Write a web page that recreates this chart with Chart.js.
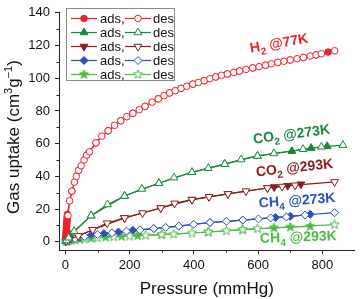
<!DOCTYPE html>
<html>
<head>
<meta charset="utf-8">
<script src="https://cdn.jsdelivr.net/npm/chart.js@4.4.0/dist/chart.umd.min.js"></script>
<style>
  html, body { margin: 0; padding: 0; background: #fff; }
</style>
</head>
<body>
<canvas id="chart" width="360" height="299"></canvas>
<script>
const FONT = '"Liberation Sans", Arial, Helvetica, sans-serif';

// --- data (pressure mmHg / uptake cm3 g-1) ---
const h2AdsP = [0.5, 0.9, 1.3, 1.7, 2.0, 2.4, 2.8, 3.1, 3.5, 3.9, 4.2, 4.6, 5.0, 5.4, 5.8, 6.2,
                20, 41, 66, 95, 133, 172, 210, 248, 289, 324, 360, 397, 432, 468, 504, 542, 583, 623, 661, 700, 741, 780, 818];
const h2AdsV = [0.8, 1.9, 2.9, 4.0, 5.0, 6.1, 7.1, 8.2, 9.3, 10.3, 11.3, 12.4, 13.5, 14.6, 15.7, 16.8,
                31, 43.7, 53, 60.5, 67.9, 74, 78.6, 82.8, 87.4, 91, 93.8, 96.4, 98.5, 100.8, 102.6, 104.4, 106.3, 108, 109.7, 111.2, 112.7, 114.3, 116];
const h2DesP = [8, 13, 20, 28, 34, 41, 49, 58, 66, 75, 95, 113, 133, 153, 172, 191, 210, 230, 248,
                270, 289, 307, 324, 342, 360, 378, 397, 414, 432, 450, 468, 486, 504, 524, 542, 562, 583, 603, 623,
                641, 661, 680, 700, 721, 741, 762, 780, 797, 838];
const h2DesV = [16, 25, 31, 36.5, 40, 43.7, 46.5, 50, 53, 55, 60.5, 64.6, 67.9, 71.2, 74, 76.5, 78.6, 80.8, 82.8,
                85.4, 87.4, 89.3, 91, 92.4, 93.8, 95.1, 96.4, 97.4, 98.5, 99.7, 100.8, 101.8, 102.6, 103.5, 104.4, 105.4, 106.3, 107.1, 108,
                108.8, 109.7, 110.4, 111.2, 111.9, 112.7, 113.6, 114.3, 115, 116.8];

const co2aAdsP = [1, 6, 16, 80, 184, 291, 394, 496, 598, 705, 765, 815];
const co2aAdsV = [0.3, 1.6, 4.2, 16, 28, 35.8, 42.5, 47.5, 52.5, 55.4, 57.3, 58.4];
const co2aDesP = [3, 10, 27, 80, 131, 184, 238, 291, 338, 394, 445, 496, 547, 598, 649, 740, 797, 864];
const co2aDesV = [0.8, 2.5, 6.5, 16, 22.8, 28, 32.3, 35.8, 39.2, 42.5, 45, 47.5, 50.3, 52.5, 54, 56.6, 58.1, 59.1];

const co2bAdsP = [1, 6, 22, 85, 184, 297, 394, 506, 629, 650, 692, 733];
const co2bAdsV = [0.2, 0.8, 2.2, 7.4, 14.6, 20.7, 25.8, 29.3, 32.9, 33.5, 34.3, 35.2];
const co2bDesP = [3, 12, 40, 85, 130, 184, 240, 297, 340, 394, 447, 506, 562, 629, 675, 715, 838];
const co2bDesV = [0.5, 1.5, 3.6, 7.4, 11.4, 14.6, 17.6, 20.7, 23.5, 25.8, 27.5, 29.3, 31, 32.9, 33.8, 34.6, 36.6];

const ch4aAdsP = [5, 20, 45, 80, 120, 165, 210, 275, 353, 450, 552, 654, 700, 762];
const ch4aAdsV = [0.5, 1.5, 2.7, 4, 5, 6, 7, 8.1, 9.6, 11.8, 13.3, 14.9, 15.6, 16.8];
const ch4aDesP = [2, 10, 30, 60, 100, 145, 190, 232, 275, 312, 353, 399, 450, 501, 552, 601, 639, 688, 746, 838];
const ch4aDesV = [0.3, 0.8, 2, 3.2, 4.5, 5.5, 6.5, 7.3, 8.1, 8.8, 9.6, 10.7, 11.8, 12.5, 13.3, 14, 14.6, 15.2, 16.4, 17.8];

const ch4bAdsP = [5, 20, 45, 80, 125, 175, 225, 300, 445, 552, 649, 700, 762];
const ch4bAdsV = [0.4, 1, 1.6, 2.2, 2.8, 3.3, 3.8, 4.4, 6, 7.4, 8.5, 9, 9.5];
const ch4bDesP = [2, 10, 30, 60, 100, 150, 200, 250, 300, 337, 394, 445, 501, 552, 598, 838];
const ch4bDesV = [0.2, 0.6, 1.2, 1.8, 2.4, 3.0, 3.5, 4.0, 4.4, 4.7, 5.4, 6.0, 6.7, 7.4, 8.0, 10.5];

const xTicks = [0, 200, 400, 600, 800];
const xMinor = [100, 300, 500, 700];
const yTicks = [0, 20, 40, 60, 80, 100, 120, 140];
const yMinor = [10, 30, 50, 70, 90, 110, 130];

// --- styles ---
const C_H2 = '#ee2228';
const C_CO2A = '#17883c';
const C_CO2B = '#8a1c22';
const C_CH4A = '#2c4fc0';
const C_CH4B = '#4cbb46';

function starImg(fill, stroke) {
    const c = document.createElement('canvas');
    c.width = c.height = 11;
    const g = c.getContext('2d');
    g.beginPath();
    for (let i = 0; i < 10; i++) {
        const r = i % 2 ? 2.1 : 4.8;
        const a = -Math.PI / 2 + i * Math.PI / 5;
        g.lineTo(5.5 + r * Math.cos(a), 5.5 + r * Math.sin(a));
    }
    g.closePath();
    g.fillStyle = fill;
    g.fill();
    g.strokeStyle = stroke;
    g.lineWidth = 1;
    g.stroke();
    return c;
}

function series(p, v, color, style, radius, filled, rot) {
    return {
        data: p.map((x, i) => ({ x: x, y: v[i] })),
        showLine: true,
        borderColor: color,
        borderWidth: 1.2,
        backgroundColor: filled ? color : '#fff',
        pointStyle: style,
        pointRotation: rot || 0,
        pointRadius: radius,
        pointBackgroundColor: filled ? color : '#fff',
        pointBorderColor: color,
        pointBorderWidth: 1,
        fill: false,
        tension: 0
    };
}

const starFull = starImg(C_CH4B, C_CH4B);
const starOpen = starImg('#fff', C_CH4B);

// des first so the open markers sit on top of the filled ones
const rows = [
    { ads: series(h2AdsP, h2AdsV, C_H2, 'circle', 3.3, true), des: series(h2DesP, h2DesV, C_H2, 'circle', 3.3, false) },
    { ads: series(co2aAdsP, co2aAdsV, C_CO2A, 'triangle', 4.5, true), des: series(co2aDesP, co2aDesV, C_CO2A, 'triangle', 4.5, false) },
    { ads: series(co2bAdsP, co2bAdsV, C_CO2B, 'triangle', 4.5, true, 180), des: series(co2bDesP, co2bDesV, C_CO2B, 'triangle', 4.5, false, 180) },
    { ads: series(ch4aAdsP, ch4aAdsV, C_CH4A, 'rectRot', 4, true), des: series(ch4aDesP, ch4aDesV, C_CH4A, 'rectRot', 4, false) },
    { ads: series(ch4bAdsP, ch4bAdsV, C_CH4B, starFull, 4, true), des: series(ch4bDesP, ch4bDesV, C_CH4B, starOpen, 4, false) }
];
const datasets = rows.map(r => r.des).concat(rows.map(r => r.ads));

const annotations = [
    { parts: [['H'], ['2', 1], [' @77K']], p: 577, v: 115.6, rot: -10, color: C_H2 },
    { parts: [['CO'], ['2', 1], [' @273K']], p: 586, v: 60, rot: -7.5, color: C_CO2A },
    { parts: [['CO'], ['2', 1], [' @293K']], p: 595, v: 40, rot: -6.3, color: C_CO2B },
    { parts: [['CH'], ['4', 1], [' @273K']], p: 603, v: 21, rot: -4, color: C_CH4A },
    { parts: [['CH'], ['4', 1], [' @293K']], p: 606, v: -0.6, rot: -2, color: C_CH4B }
];

function drawParts(ctx, parts, big, small, shift, align) {
    let w = 0;
    parts.forEach(([t, s]) => {
        ctx.font = s ? small : big;
        w += ctx.measureText(t).width;
    });
    let cx = align === 'center' ? -w / 2 : 0;
    parts.forEach(([t, s]) => {
        ctx.font = s ? small : big;
        ctx.fillText(t, cx, s ? shift : 0);
        cx += ctx.measureText(t).width;
    });
}

const decorPlugin = {
    id: 'decor',
    afterDraw(chart) {
        const ctx = chart.ctx;
        const xs = chart.scales.x, ys = chart.scales.y;
        const area = chart.chartArea;

        // minor ticks
        ctx.save();
        ctx.strokeStyle = '#222';
        ctx.lineWidth = 1;
        ctx.beginPath();
        xMinor.forEach(v => {
            const px = Math.round(xs.getPixelForValue(v)) + 0.5;
            ctx.moveTo(px, area.bottom);
            ctx.lineTo(px, area.bottom + 2.5);
        });
        yMinor.forEach(v => {
            const py = Math.round(ys.getPixelForValue(v)) + 0.5;
            ctx.moveTo(area.left, py);
            ctx.lineTo(area.left - 2.5, py);
        });
        ctx.stroke();
        ctx.restore();

        // axis titles
        ctx.save();
        ctx.fillStyle = '#111';
        ctx.textBaseline = 'alphabetic';
        ctx.translate((area.left + area.right) / 2, 294);
        drawParts(ctx, [['Pressure (mmHg)']], `17px ${FONT}`, '', 0, 'center');
        ctx.restore();

        ctx.save();
        ctx.fillStyle = '#111';
        ctx.textBaseline = 'alphabetic';
        ctx.translate(18.5, 137);
        ctx.rotate(-Math.PI / 2);
        drawParts(ctx, [['Gas uptake (cm'], ['3', 1], ['g'], ['\u22121', 1], [')']], `17px ${FONT}`, `11px ${FONT}`, -7, 'center');
        ctx.restore();

        // legend
        ctx.save();
        ctx.fillStyle = '#fff';
        ctx.fillRect(66.5, 8.5, 108, 72);
        ctx.strokeStyle = '#8a8a8a';
        ctx.lineWidth = 1;
        ctx.strokeRect(66.5, 8.5, 108, 72);
        ctx.textBaseline = 'middle';
        ctx.textAlign = 'left';
        ctx.font = `13px ${FONT}`;
        rows.forEach((r, i) => {
            const y = 18.5 + 14 * i;
            [[r.ads, 71, 'ads,', 100], [r.des, 125, 'des', 153]].forEach(([ds, x0, txt, tx]) => {
                ctx.strokeStyle = ds.borderColor;
                ctx.lineWidth = 1.2;
                ctx.beginPath();
                ctx.moveTo(x0, y);
                ctx.lineTo(x0 + 26, y);
                ctx.stroke();
                ctx.fillStyle = ds.pointBackgroundColor;
                ctx.strokeStyle = ds.pointBorderColor;
                ctx.lineWidth = 1;
                Chart.helpers.drawPoint(ctx, {
                    pointStyle: ds.pointStyle, rotation: ds.pointRotation,
                    radius: ds.pointRadius, borderWidth: 1
                }, x0 + 13, y);
                ctx.fillStyle = '#111';
                ctx.fillText(txt, tx, y + 1);
            });
        });
        ctx.restore();

        // curve labels
        annotations.forEach(a => {
            ctx.save();
            ctx.fillStyle = a.color;
            ctx.textAlign = 'left';
            ctx.textBaseline = 'alphabetic';
            ctx.translate(xs.getPixelForValue(a.p), ys.getPixelForValue(a.v));
            ctx.rotate(a.rot * Math.PI / 180);
            drawParts(ctx, a.parts, `bold 14px ${FONT}`, `bold 10px ${FONT}`, 4, 'left');
            ctx.restore();
        });
    }
};

new Chart(document.getElementById('chart'), {
    type: 'scatter',
    data: { datasets: datasets },
    options: {
        responsive: false,
        animation: false,
        events: [],
        layout: { padding: { top: 7, right: 2, left: 0, bottom: 0 } },
        plugins: { legend: { display: false }, tooltip: { enabled: false } },
        scales: {
            x: {
                type: 'linear', min: -20, max: 900,
                afterBuildTicks: s => { s.ticks = xTicks.map(v => ({ value: v })); },
                afterFit: s => { s.height = 49; },
                grid: { drawOnChartArea: false, tickLength: 4, tickColor: '#222' },
                border: { color: '#222', width: 1 },
                ticks: { font: { family: FONT, size: 13 }, color: '#111', padding: 4, maxRotation: 0 }
            },
            y: {
                type: 'linear', min: -5, max: 140,
                afterBuildTicks: s => { s.ticks = yTicks.map(v => ({ value: v })); },
                afterFit: s => { s.width = 59; },
                grid: { drawOnChartArea: false, tickLength: 4, tickColor: '#222' },
                border: { color: '#222', width: 1 },
                ticks: { font: { family: FONT, size: 13 }, color: '#111', padding: 5 }
            }
        }
    },
    plugins: [decorPlugin]
});
</script>
</body>
</html>
